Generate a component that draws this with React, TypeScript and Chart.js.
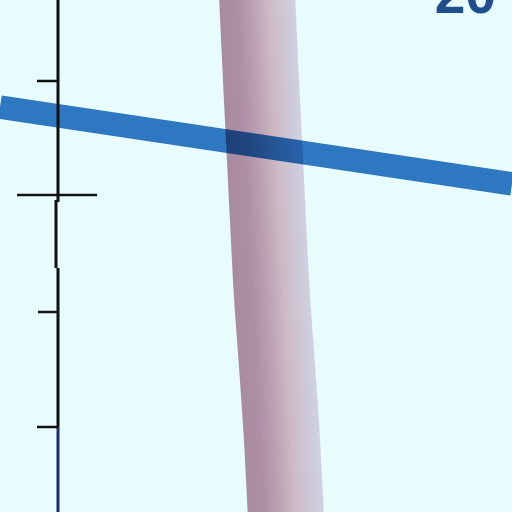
import React, { useEffect, useRef } from 'react';
import Chart from 'chart.js/auto';

// pixel-space data (x right, y down), 0..512
const tubeX = [257, 261, 265, 271, 278, 282, 286];
const tubeY = [-6, 80, 160, 280, 380, 440, 518];

const bandX = [0, 512];
const bandY = [107, 184];

const axisX = [58, 58, null, 56, 56, null, 58, 58];
const axisY = [0, 202, null, 200, 268, null, 268, 427];

const axisLowX = [58, 58];
const axisLowY = [427, 512];

const tickX = [37, 58, null, 17, 97, null, 38, 58, null, 37, 58];
const tickY = [81, 81, null, 195, 195, null, 312, 312, null, 427, 427];

const cornerLabel = '20';

const toPoints = (xs: (number | null)[], ys: (number | null)[]) =>
  xs.map((x, i) => ({ x: x as number, y: ys[i] as number }));

const multiplyPlugin = {
  id: 'multiplyBand',
  beforeDatasetDraw(chart: any, args: any) {
    if (chart.data.datasets[args.index].label === 'band') {
      chart.ctx.save();
      chart.ctx.globalCompositeOperation = 'multiply';
    }
  },
  afterDatasetDraw(chart: any, args: any) {
    if (chart.data.datasets[args.index].label === 'band') {
      chart.ctx.restore();
    }
  },
};

const labelPlugin = {
  id: 'cornerLabel',
  afterDraw(chart: any) {
    const ctx = chart.ctx;
    ctx.save();
    ctx.font = 'bold 55px "Liberation Sans", Arial, sans-serif';
    ctx.fillStyle = '#1f4e8e';
    ctx.textAlign = 'right';
    ctx.textBaseline = 'alphabetic';
    ctx.fillText(cornerLabel, 496, 13);
    ctx.restore();
  },
};

const tubeGradient = (ctx: any) => {
  const c = ctx.chart.ctx;
  const g = c.createLinearGradient(219, 2, 295, -2);
  g.addColorStop(0, '#a98ba1');
  g.addColorStop(0.25, '#ad90a6');
  g.addColorStop(0.45, '#bca2b4');
  g.addColorStop(0.65, '#cdbac4');
  g.addColorStop(0.85, '#cdc8d6');
  g.addColorStop(1, '#cfd1e1');
  return g;
};

const App: React.FC = () => {
  const canvasRef = useRef<HTMLCanvasElement>(null);
  const chartRef = useRef<Chart | null>(null);

  useEffect(() => {
    if (!canvasRef.current) return;
    if (chartRef.current) chartRef.current.destroy();

    const base = { pointRadius: 0, fill: false, spanGaps: false, borderCapStyle: 'butt' as const };

    chartRef.current = new Chart(canvasRef.current, {
      type: 'line',
      data: {
        datasets: [
          {
            ...base,
            label: 'ticks',
            data: toPoints(tickX, tickY),
            borderColor: '#111111',
            borderWidth: 2.5,
            order: 0,
          },
          {
            ...base,
            label: 'axis',
            data: toPoints(axisX, axisY),
            borderColor: '#111111',
            borderWidth: 3,
            order: 1,
          },
          {
            ...base,
            label: 'axisLow',
            data: toPoints(axisLowX, axisLowY),
            borderColor: '#1c2f6b',
            borderWidth: 3,
            order: 2,
          },
          {
            ...base,
            label: 'band',
            data: toPoints(bandX, bandY),
            borderColor: '#2e77c1',
            borderWidth: 23.5,
            order: 3,
          },
          {
            ...base,
            label: 'tube',
            data: toPoints(tubeX, tubeY),
            borderColor: tubeGradient,
            borderWidth: 76,
            cubicInterpolationMode: 'monotone' as const,
            borderJoinStyle: 'round' as const,
            order: 4,
          },
        ],
      },
      options: {
        animation: false,
        responsive: true,
        maintainAspectRatio: false,
        layout: { padding: 0 },
        parsing: false,
        scales: {
          x: { type: 'linear', display: false, min: 0, max: 512 },
          y: { type: 'linear', display: false, min: 0, max: 512, reverse: true },
        },
        plugins: {
          legend: { display: false },
          tooltip: { enabled: false },
          title: { display: false },
        },
        events: [],
      },
      plugins: [multiplyPlugin, labelPlugin],
    });

    return () => {
      if (chartRef.current) {
        chartRef.current.destroy();
        chartRef.current = null;
      }
    };
  }, []);

  return (
    <div
      style={{
        position: 'fixed',
        left: 0,
        top: 0,
        width: '512px',
        height: '512px',
        background: '#e8fbfd',
      }}
    >
      <canvas ref={canvasRef}></canvas>
    </div>
  );
};

export default App;
